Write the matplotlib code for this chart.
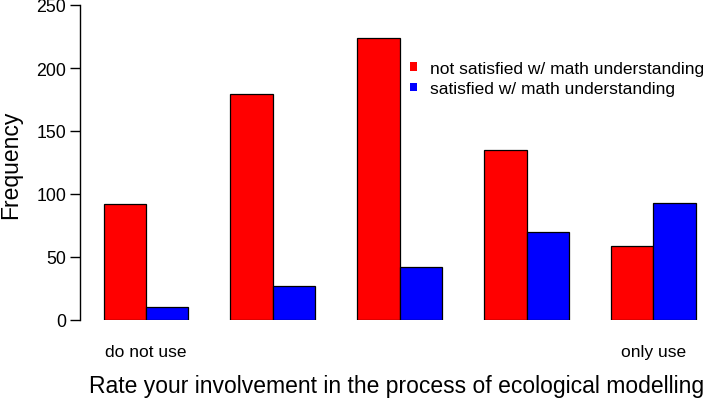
import numpy as np
import matplotlib
matplotlib.use("Agg")
import matplotlib.pyplot as plt
from matplotlib.patches import Patch

plt.rcParams['font.family'] = ['Liberation Sans', 'DejaVu Sans']

# data
groups = ['do not use', '', '', '', 'only use']
not_satisfied = [92, 179, 224, 135, 59]
satisfied = [10, 27, 42, 70, 93]
series_names = ['not satisfied w/ math understanding', 'satisfied w/ math understanding']
yticks = [0, 50, 100, 150, 200, 250]

W, H = 708, 402
fig = plt.figure(figsize=(W / 100, H / 100), dpi=100)

# axes placed in pixel terms: left spine at x=80, y from 321 (0) to 6 (250)
left, right, bottom, top = 80, 708, 321, 6
ax = fig.add_axes([left / W, 1 - bottom / H, (right - left) / W, (bottom - top) / H])

# R barplot style: each group = 2 bars of width 1, then 1 unit of space
n = len(groups)
starts = 1 + 3 * np.arange(n)
ax.bar(starts, not_satisfied, width=1, align='edge', color='#ff0000',
       edgecolor='black', linewidth=0.9)
ax.bar(starts + 1, satisfied, width=1, align='edge', color='#0000ff',
       edgecolor='black', linewidth=0.9)

px_per_unit = 42.3
x0 = 1 - (103.5 - left) / px_per_unit
ax.set_xlim(x0, x0 + (right - left) / px_per_unit)
ax.set_ylim(0, 250)

for s in ['top', 'right', 'bottom']:
    ax.spines[s].set_visible(False)
ax.spines['left'].set_linewidth(1.0)

ax.set_yticks(yticks)
ax.tick_params(axis='y', direction='out', length=7, width=1, labelsize=12.8, pad=3)
ax.set_xticks(starts + 1)
ax.set_xticklabels(groups)
ax.tick_params(axis='x', length=0, labelsize=12.5, pad=17)

fig.text(11 / W, 1 - 165 / H, 'Frequency', rotation=90, ha='center', va='center',
         fontsize=16.5)
fig.text(397 / W, 1 - 387 / H, 'Rate your involvement in the process of ecological modelling',
         ha='center', va='center', fontsize=16.5)

handles = [Patch(facecolor='#ff0000', edgecolor='none'),
           Patch(facecolor='#0000ff', edgecolor='none')]
ax.legend(handles, series_names, loc='upper left', bbox_to_anchor=(410 / W, 1 - 62 / H),
          bbox_transform=fig.transFigure, frameon=False, fontsize=12.5,
          handlelength=0.4, handleheight=0.4, handletextpad=0.75, labelspacing=0.3,
          borderpad=0, borderaxespad=0)

fig.savefig('out.png', dpi=100)
